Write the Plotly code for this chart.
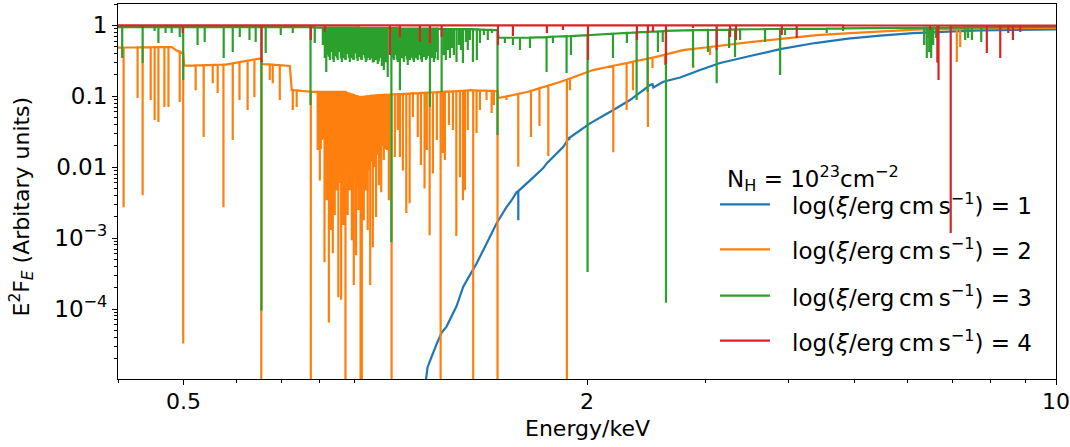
import math
import plotly.graph_objects as go

# Absorbed power-law spectra (E^2 F_E) for N_H = 1e23 cm^-2 at four ionisation levels.
# Each series: sample energy (keV), continuum flux at that energy, and flux at the
# bottom of the absorption line there (equal to the continuum where there is no line).

# log xi = 1
blue_E = [1.150, 1.157, 1.167, 1.180, 1.193, 1.214, 1.235, 1.278, 1.308, 1.338,
          1.369, 1.417, 1.466, 1.518, 1.544, 1.571, 1.580, 1.645, 1.721, 1.743,
          1.844, 1.880, 1.882, 1.886, 2.021, 2.189, 2.318, 2.483, 2.504, 2.511,
          2.599, 2.753, 2.948, 3.158, 3.500, 3.880, 4.375, 4.898, 5.470, 6.125,
          6.905, 7.711, 10.0]
blue_top = [9.5e-6, 1.5e-5, 1.85e-5, 2.42e-5, 3.16e-5, 4.6e-5, 5.65e-5, 1.09e-4, 2.06e-4, 3.0e-4,
            4.38e-4, 8.37e-4, 1.61e-3, 2.75e-3, 3.42e-3, 4.45e-3, 4.6e-3, 6.51e-3, 9.7e-3, 1.14e-2,
            1.94e-2, 2.58e-2, 2.60e-2, 2.62e-2, 4.15e-2, 6.39e-2, 8.84e-2, 0.144, 0.148, 0.133,
            0.160, 0.184, 0.234, 0.294, 0.369, 0.463, 0.563, 0.651, 0.718, 0.779,
            0.818, 0.850, 0.878]
blue_low = [9.5e-6, 1.5e-5, 1.85e-5, 2.42e-5, 3.16e-5, 4.6e-5, 5.65e-5, 1.09e-4, 2.06e-4, 3.0e-4,
            4.38e-4, 8.37e-4, 1.61e-3, 2.75e-3, 3.42e-3, 4.45e-3, 1.79e-3, 6.51e-3, 9.7e-3, 1.14e-2,
            1.94e-2, 2.58e-2, 2.40e-2, 2.62e-2, 4.15e-2, 6.39e-2, 8.84e-2, 0.144, 0.148, 0.133,
            0.160, 0.184, 0.234, 0.294, 0.369, 0.463, 0.563, 0.651, 0.718, 0.779,
            0.818, 0.850, 0.878]

# log xi = 2
orange_E = [0.400, 0.4078, 0.4278, 0.4353, 0.4475, 0.4536, 0.4595, 0.4690, 0.4756, 0.4809,
            0.4891, 0.4944, 0.4986, 0.5003, 0.5020, 0.5222, 0.5368, 0.5537, 0.5631, 0.5744,
            0.5788, 0.5930, 0.6069, 0.6241, 0.6388, 0.6507, 0.6540, 0.6562, 0.6734, 0.6803,
            0.6969, 0.7213, 0.7262, 0.7287, 0.7385, 0.7752, 0.7937, 0.7996, 0.8051, 0.8125,
            0.8188, 0.8247, 0.8303, 0.8360, 0.8416, 0.8473, 0.8521, 0.8603, 0.8667, 0.8731,
            0.8798, 0.8863, 0.8924, 0.8984, 0.9054, 0.9126, 0.9195, 0.9236, 0.9299, 0.9361,
            0.9424, 0.9504, 0.9591, 0.9698, 0.9792, 0.9870, 0.9960, 1.0061, 1.0134, 1.0228,
            1.0343, 1.0447, 1.0524, 1.0632, 1.0758, 1.0881, 1.1004, 1.1190, 1.1311, 1.1453,
            1.1542, 1.1655, 1.1786, 1.1946, 1.2103, 1.2198, 1.2280, 1.2453, 1.2624, 1.2773,
            1.2932, 1.3065, 1.3153, 1.3285, 1.3384, 1.3534, 1.3690, 1.3851, 1.4168, 1.4418,
            1.4531, 1.4712, 1.4760, 1.5176, 1.5798, 1.6270, 1.6502, 1.6991, 1.7512, 1.8230,
            1.8666, 1.8866, 2.0414, 2.1888, 2.2912, 2.3420, 2.4648, 2.5043, 2.5255, 2.6137,
            2.7807, 2.8778, 3.0511, 3.5004, 4.4040, 4.9344, 6.2751, 6.4465, 7.1151, 7.1990,
            7.3219, 10.0]
orange_top = [0.486, 0.487, 0.489, 0.490, 0.491, 0.492, 0.492, 0.493, 0.494, 0.494,
              0.441, 0.426, 0.407, 0.407, 0.271, 0.273, 0.275, 0.277, 0.278, 0.279,
              0.280, 0.291, 0.303, 0.318, 0.330, 0.340, 0.340, 0.285, 0.280, 0.278,
              0.274, 0.267, 0.122, 0.122, 0.121, 0.116, 0.115, 0.115, 0.115, 0.115,
              0.115, 0.115, 0.115, 0.115, 0.115, 0.115, 0.115, 0.115, 0.115, 0.115,
              0.111, 0.109, 0.106, 0.104, 0.101, 0.0993, 0.0976, 0.098, 0.0985, 0.0994,
              0.100, 0.101, 0.102, 0.103, 0.104, 0.104, 0.105, 0.105, 0.105, 0.106,
              0.106, 0.107, 0.107, 0.108, 0.108, 0.109, 0.110, 0.110, 0.111, 0.112,
              0.112, 0.113, 0.113, 0.114, 0.115, 0.115, 0.116, 0.116, 0.117, 0.118,
              0.119, 0.119, 0.120, 0.121, 0.122, 0.121, 0.121, 0.120, 0.120, 0.119,
              0.119, 0.118, 0.0945, 0.0996, 0.108, 0.115, 0.119, 0.130, 0.141, 0.159,
              0.172, 0.178, 0.234, 0.269, 0.293, 0.307, 0.340, 0.351, 0.357, 0.387,
              0.448, 0.466, 0.497, 0.581, 0.730, 0.779, 0.878, 0.881, 0.890, 0.892,
              0.892, 0.925]
orange_low = [0.486, 0.00273, 0.0945, 0.00401, 0.0884, 0.0462, 0.0433, 0.0705, 0.0705, 0.494,
              0.441, 0.0829, 0.407, 3.25e-5, 0.271, 0.122, 0.0266, 0.153, 0.111, 0.00273,
              0.280, 0.0241, 0.0884, 0.0639, 0.0976, 0.340, 1e-6, 0.285, 0.169, 0.153,
              0.0884, 0.267, 0.122, 0.0639, 0.0705, 1e-6, 0.0174, 0.00651, 0.0241, 0.000457,
              0.00342, 6.44e-5, 0.00130, 0.000612, 0.00211, 0.00471, 0.000146, 0.000135, 0.00153, 1e-6,
              0.00211, 0.00471, 0.000932, 0.000218, 0.000573, 0.00248, 1e-6, 1e-6, 0.00179, 0.00471,
              0.00130, 0.000218, 0.000742, 0.00198, 0.00554, 0.00442, 0.0126, 0.0174, 0.00342, 1e-6,
              0.0139, 0.0334, 0.0139, 0.00898, 0.00225, 0.00310, 0.0509, 0.0266, 0.0107, 0.00502,
              0.0174, 0.00110, 0.00814, 0.0241, 1e-6, 0.0158, 0.0126, 0.0392, 0.0334, 0.00107,
              0.00718, 0.00342, 0.00471, 0.0334, 0.122, 1e-6, 0.0303, 0.0639, 0.0884, 0.0579,
              0.0752, 1e-6, 0.0945, 0.0884, 0.0101, 0.115, 0.0266, 0.0380, 0.0144, 0.159,
              1e-6, 0.122, 0.234, 0.0163, 0.0639, 0.122, 0.0368, 0.250, 0.357, 0.276,
              0.448, 0.250, 0.381, 0.581, 0.730, 0.779, 0.878, 0.662, 0.304, 0.494,
              0.730, 0.925]
# the densest part of the log xi = 2 forest (0.79-1.01 keV)
orange_forest_E = [0.7965, 0.8023, 0.8092, 0.8160, 0.8215, 0.8275, 0.8332, 0.8388, 0.8445, 0.8559,
                   0.8638, 0.8697, 0.8769, 0.8831, 0.8893, 0.8954, 0.9014, 0.9092, 0.9157, 0.9268,
                   0.9330, 0.9392, 0.9459, 0.9542, 0.9640, 0.9737, 0.9826, 0.9909, 1.0010, 1.0094]
orange_forest_top = [0.115, 0.115, 0.115, 0.115, 0.115, 0.115, 0.115, 0.115, 0.115, 0.115,
                     0.115, 0.115, 0.112, 0.110, 0.107, 0.105, 0.103, 0.100, 0.098, 0.0983,
                     0.099, 0.0997, 0.100, 0.101, 0.102, 0.103, 0.104, 0.104, 0.105, 0.105]
orange_forest_low = [0.030, 0.018, 0.025, 0.012, 0.020, 0.009, 0.015, 0.008, 0.012, 0.006,
                     0.010, 0.005, 0.009, 0.006, 0.008, 0.004, 0.007, 0.005, 0.008, 0.006,
                     0.010, 0.007, 0.009, 0.012, 0.010, 0.015, 0.012, 0.020, 0.018, 0.025]

# log xi = 3
green_E = [0.400, 0.4058, 0.4353, 0.4536, 0.4595, 0.4710, 0.4809, 0.4944, 0.5003, 0.5256,
           0.5386, 0.5749, 0.5930, 0.6075, 0.6281, 0.6416, 0.6545, 0.6640, 0.6993, 0.7287,
           0.7465, 0.7744, 0.7858, 0.8078, 0.8133, 0.8174, 0.8215, 0.8275, 0.8332, 0.8388,
           0.8445, 0.8501, 0.8565, 0.8623, 0.8682, 0.8740, 0.8799, 0.8863, 0.8924, 0.8984,
           0.9045, 0.9106, 0.9173, 0.9236, 0.9299, 0.9361, 0.9424, 0.9494, 0.9559, 0.9624,
           0.9689, 0.9753, 0.9826, 0.9893, 0.9960, 1.0027, 1.0094, 1.0221, 1.0308, 1.0377,
           1.0447, 1.0524, 1.0596, 1.0668, 1.0740, 1.0812, 1.0892, 1.0967, 1.1041, 1.1115,
           1.1190, 1.1272, 1.1349, 1.1426, 1.1503, 1.1580, 1.1667, 1.1746, 1.1826, 1.1906,
           1.1985, 1.2144, 1.2239, 1.2321, 1.2404, 1.2496, 1.2581, 1.2666, 1.2781, 1.2888,
           1.2976, 1.3065, 1.3197, 1.3285, 1.3384, 1.3521, 1.3704, 1.3851, 1.4041, 1.4230,
           1.4433, 1.4712, 1.4760, 1.5089, 1.5511, 1.5890, 1.6445, 1.7409, 1.7795, 1.8647,
           1.8931, 2.0039, 2.1866, 2.2935, 2.3713, 2.4623, 2.5509, 2.5935, 2.6225, 2.8778,
           3.0286, 3.1209, 3.2569, 3.3239, 3.3822, 3.6845, 3.8802, 3.9465, 4.5533, 4.8167,
           6.3608, 6.4187, 6.4721, 6.5165, 6.5608, 6.6273, 7.3219, 7.3956, 7.4937, 7.7371,
           10.0]
green_top = [0.946, 0.946, 0.946, 0.946, 0.946, 0.946, 0.946, 0.946, 0.946, 0.946,
             0.946, 0.946, 0.946, 0.946, 0.946, 0.946, 0.946, 0.946, 0.946, 0.946,
             0.946, 0.940, 0.935, 0.931, 0.930, 0.930, 0.930, 0.930, 0.930, 0.930,
             0.930, 0.930, 0.930, 0.930, 0.930, 0.930, 0.930, 0.930, 0.930, 0.930,
             0.930, 0.930, 0.915, 0.915, 0.915, 0.915, 0.915, 0.915, 0.915, 0.915,
             0.915, 0.915, 0.915, 0.915, 0.915, 0.915, 0.915, 0.915, 0.915, 0.915,
             0.915, 0.900, 0.900, 0.900, 0.900, 0.900, 0.900, 0.900, 0.900, 0.900,
             0.900, 0.900, 0.900, 0.900, 0.900, 0.900, 0.900, 0.900, 0.900, 0.900,
             0.900, 0.885, 0.885, 0.885, 0.885, 0.885, 0.885, 0.885, 0.885, 0.885,
             0.885, 0.885, 0.885, 0.885, 0.885, 0.885, 0.880, 0.873, 0.870, 0.865,
             0.862, 0.858, 0.669, 0.669, 0.669, 0.669, 0.670, 0.684, 0.690, 0.702,
             0.706, 0.727, 0.761, 0.781, 0.797, 0.810, 0.823, 0.831, 0.834, 0.853,
             0.861, 0.866, 0.873, 0.875, 0.878, 0.888, 0.893, 0.893, 0.901, 0.904,
             0.928, 0.928, 0.928, 0.928, 0.928, 0.928, 0.937, 0.937, 0.937, 0.937,
             0.956]
green_low = [0.946, 0.346, 0.294, 0.831, 0.563, 0.779, 0.779, 0.684, 0.169, 0.527,
             0.581, 0.346, 0.420, 0.684, 0.620, 0.581, 9.45e-5, 0.407, 0.730, 0.779,
             0.946, 0.0752, 0.563, 0.527, 0.346, 0.220, 0.381, 0.324, 0.448, 0.304,
             0.369, 0.324, 0.420, 0.304, 0.346, 0.324, 0.394, 0.304, 0.346, 0.324,
             0.448, 0.314, 0.357, 0.324, 0.381, 0.304, 0.346, 0.324, 0.407, 0.304,
             0.324, 0.284, 0.346, 0.267, 0.234, 0.304, 0.187, 0.000874, 0.324, 0.381,
             0.304, 0.122, 0.346, 0.304, 0.369, 0.276, 0.324, 0.381, 0.304, 0.346,
             0.324, 0.394, 0.304, 0.357, 0.324, 0.381, 0.0705, 0.346, 0.304, 0.420,
             0.324, 0.115, 0.381, 0.324, 0.448, 0.346, 0.478, 0.381, 0.304, 0.527,
             0.448, 0.294, 0.581, 0.448, 0.620, 0.304, 0.324, 0.563, 0.730, 0.620,
             0.779, 0.0284, 0.669, 0.563, 0.527, 0.448, 0.478, 0.220, 0.563, 0.213,
             0.381, 0.000332, 0.346, 0.563, 0.0884, 0.115, 0.420, 0.581, 0.000122, 0.258,
             0.420, 0.153, 0.478, 0.357, 0.620, 0.581, 0.199, 0.730, 0.779, 0.831,
             0.527, 0.346, 0.420, 0.346, 0.527, 0.662, 0.620, 0.662, 0.620, 0.581,
             0.956]
# the densest part of the log xi = 3 forest (0.82-1.20 keV)
green_forest_E = [0.8245, 0.8303, 0.8360, 0.8416, 0.8473, 0.8533, 0.8594, 0.8652, 0.8711, 0.8769,
                  0.8831, 0.8893, 0.8954, 0.9014, 0.9075, 0.9140, 0.9204, 0.9268, 0.9330, 0.9392,
                  0.9459, 0.9526, 0.9591, 0.9656, 0.9721, 0.9790, 0.9860, 0.9926, 0.9993, 1.0061,
                  1.0264, 1.0342, 1.0412, 1.0485, 1.0560, 1.0632, 1.0704, 1.0776, 1.0852, 1.0929,
                  1.1004, 1.1078, 1.1152, 1.1231, 1.1311, 1.1388, 1.1465, 1.1542, 1.1624, 1.1706,
                  1.1786, 1.1866, 1.1946]
green_forest_top = [0.930, 0.930, 0.930, 0.930, 0.930, 0.930, 0.930, 0.930, 0.930, 0.930,
                    0.930, 0.930, 0.930, 0.930, 0.930, 0.930, 0.915, 0.915, 0.915, 0.915,
                    0.915, 0.915, 0.915, 0.915, 0.915, 0.915, 0.915, 0.915, 0.915, 0.915,
                    0.915, 0.915, 0.915, 0.900, 0.900, 0.900, 0.900, 0.900, 0.900, 0.900,
                    0.900, 0.900, 0.900, 0.900, 0.900, 0.900, 0.900, 0.900, 0.900, 0.900,
                    0.900, 0.900, 0.900]
green_forest_low = [0.36, 0.42, 0.33, 0.39, 0.35, 0.44, 0.34, 0.38, 0.33, 0.41,
                    0.35, 0.37, 0.33, 0.40, 0.34, 0.36, 0.33, 0.39, 0.35, 0.32,
                    0.37, 0.34, 0.30, 0.36, 0.33, 0.31, 0.35, 0.29, 0.33, 0.30,
                    0.35, 0.38, 0.33, 0.36, 0.40, 0.34, 0.37, 0.33, 0.39, 0.35,
                    0.33, 0.37, 0.34, 0.38, 0.33, 0.36, 0.40, 0.34, 0.37, 0.35,
                    0.39, 0.34, 0.42]

# log xi = 4
red_E = [0.400, 0.4353, 0.4994, 0.6545, 0.7752, 0.8133, 1.0169, 1.0524, 1.1272, 1.1667,
         1.2144, 1.4735, 1.5511, 1.7427, 1.8417, 2.0069, 2.3737, 2.4648, 2.5085, 2.6225,
         2.8778, 3.1209, 3.2681, 3.3350, 3.9027, 4.1076, 4.8167, 6.4943, 6.6550, 6.6822,
         6.9678, 7.8871, 8.2588, 8.4890, 8.6261, 8.8459, 10.0]
red_top = [1.0, 1.0, 1.0, 1.0, 1.0, 1.0, 1.0, 1.0, 1.0, 1.0,
           1.0, 1.0, 1.0, 1.0, 1.0, 1.0, 1.0, 1.0, 1.0, 1.0,
           1.0, 1.0, 1.0, 1.0, 1.0, 1.0, 1.0, 0.995, 0.995, 0.995,
           0.995, 0.993, 0.992, 0.992, 0.992, 0.991, 0.99]
red_low = [1.0, 0.916, 0.779, 0.304, 0.620, 0.804, 0.381, 0.684, 0.581, 0.563,
           0.684, 0.527, 0.706, 0.779, 0.858, 0.324, 0.620, 0.779, 0.804, 0.284,
           0.916, 0.448, 0.684, 0.620, 0.730, 0.662, 0.916, 0.858, 0.300, 0.169,
           0.00118, 0.407, 0.346, 0.779, 0.620, 0.804, 0.99]

series_labels = ["1", "2", "3", "4"]
series_colors = ["#1f77b4", "#ff7f0e", "#2ca02c", "#d62728"]

x_major = [0.5, 2, 10]
x_major_text = ["0.5", "2", "10"]
x_minor = [0.4, 0.6, 0.7, 0.8, 0.9, 3, 4, 5, 6, 7, 8, 9]
y_major = [1, 0.1, 0.01, 0.001, 0.0001]
y_major_text = ["1", "0.1", "0.01", "10<sup>\u22123</sup>", "10<sup>\u22124</sup>"]
y_minor = [m * 10.0 ** d for d in range(-5, 1) for m in range(2, 10)]


def merged(*parts):
    """Combine several (energy, continuum, trough) tables, ordered by energy."""
    rows = []
    for E, top, low in parts:
        rows.extend(zip(E, top, low))
    rows.sort(key=lambda r: r[0])
    return rows


def absorption_path(rows):
    """Turn sample rows into a polyline with a vertical spike at every line."""
    xs, ys = [], []
    for e, c, t in rows:
        if t < c:
            xs.extend([e, e, e])
            ys.extend([c, t, c])
        else:
            xs.append(e)
            ys.append(c)
    return xs, ys


FONT = "DejaVu Sans"
spectra = [
    merged((blue_E, blue_top, blue_low)),
    merged((orange_E, orange_top, orange_low),
           (orange_forest_E, orange_forest_top, orange_forest_low)),
    merged((green_E, green_top, green_low),
           (green_forest_E, green_forest_top, green_forest_low)),
    merged((red_E, red_top, red_low)),
]

fig = go.Figure()
for rows, lab, col in zip(spectra, series_labels, series_colors):
    xs, ys = absorption_path(rows)
    fig.add_trace(go.Scatter(
        x=xs, y=ys, mode="lines",
        name="log(\u03be/erg cm s\u207b\u00b9) = " + lab,
        line=dict(color=col, width=2.2, simplify=False),
        showlegend=False, hoverinfo="skip",
    ))

axis_common = dict(
    type="log", showgrid=False, zeroline=False,
    showline=True, linecolor="black", linewidth=1.1, mirror=True,
    ticks="outside", ticklen=5, tickwidth=1.1, tickcolor="black",
    tickfont=dict(family=FONT, size=23, color="black"),
)

fig.update_layout(
    width=1070, height=447,
    margin=dict(l=118, r=14, t=4, b=68),
    paper_bgcolor="white", plot_bgcolor="white",
    font=dict(family=FONT, size=22, color="black"),
    xaxis=dict(
        **axis_common,
        range=[math.log10(0.4), math.log10(10)],
        tickmode="array", tickvals=x_major, ticktext=x_major_text,
        showticklabels=False,
        minor=dict(tickmode="array", tickvals=x_minor, ticks="outside",
                   ticklen=3, tickwidth=0.8, tickcolor="black", showgrid=False),
    ),
    yaxis=dict(
        **axis_common,
        range=[math.log10(1.03e-5), math.log10(2)],
        tickmode="array", tickvals=y_major, ticktext=y_major_text,
        minor=dict(tickmode="array", tickvals=y_minor, ticks="outside",
                   ticklen=3, tickwidth=0.8, tickcolor="black", showgrid=False),
    ),
)

# x tick labels placed at their tick values (log axis: positions are log10 of the value)
for v, t in zip(x_major, x_major_text):
    fig.add_annotation(text=t, xref="x", yref="paper", x=math.log10(v), y=-0.061,
                       xanchor="center", yanchor="middle", showarrow=False,
                       font=dict(family=FONT, size=22, color="black"))

# axis titles
fig.add_annotation(text="Energy/keV", xref="paper", yref="paper", x=0.5, y=-0.133,
                   xanchor="center", yanchor="middle", showarrow=False,
                   font=dict(family=FONT, size=22, color="black"))
fig.add_annotation(text="E<sup>2</sup>F<sub><i>E</i></sub> (Arbitary units)",
                   xref="paper", yref="paper", x=-0.1034, y=0.46, textangle=-90,
                   xanchor="center", yanchor="middle", showarrow=False,
                   font=dict(family=FONT, size=22, color="black"))

# legend (no frame), title on top
fig.add_annotation(text="N<sub>H</sub> = 10<sup>23</sup>cm<sup>\u22122</sup>",
                   xref="paper", yref="paper", x=0.6471, y=0.536,
                   xanchor="left", yanchor="middle", showarrow=False,
                   font=dict(family=FONT, size=23, color="black"))
legend_y = [0.4659, 0.3459, 0.2221, 0.1021]
for lab, col, ly in zip(series_labels, series_colors, legend_y):
    fig.add_shape(type="line", xref="paper", yref="paper",
                  x0=0.6418, x1=0.6951, y0=ly, y1=ly,
                  line=dict(color=col, width=2.2))
    fig.add_annotation(
        text="log(<i>\u03be</i>/erg\u2009cm\u2009s<sup>\u22121</sup>) = " + lab,
        xref="paper", yref="paper", x=0.7164, y=ly,
        xanchor="left", yanchor="middle", showarrow=False,
        font=dict(family=FONT, size=23, color="black"))

fig.write_html("out.html")
